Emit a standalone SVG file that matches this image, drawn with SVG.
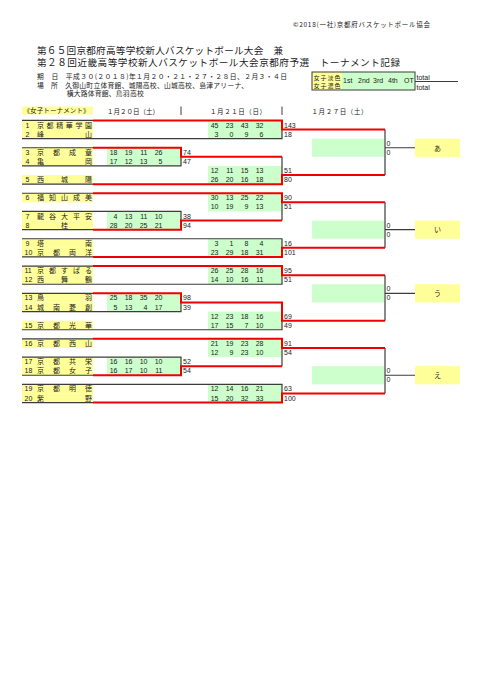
<svg xmlns="http://www.w3.org/2000/svg" width="481" height="680" viewBox="0 0 481 680">
<style>
.t{font-family:"Liberation Sans","Noto Sans CJK JP",sans-serif;font-size:7px;fill:#222}
.j{font-family:"Noto Sans CJK JP",sans-serif;fill:#222}
.e{text-anchor:end}
.y{fill:#ffff99}
.g{fill:#ccffcc}
.d{stroke:#3c3c3c;stroke-width:1.2;fill:none}
.r{stroke:#f00000;stroke-width:2;fill:none}
</style>
<rect width="481" height="680" fill="#fff"/>
<g id="header">
<text class="j" x="293" y="27" font-size="6.5" textLength="137">©2018(一社)京都府バスケットボール協会</text>
<text class="j" x="37" y="54" font-size="9.6" textLength="246">第６５回京都府高等学校新人バスケットボール大会　兼</text>
<text class="j" x="37" y="66.3" font-size="9.6" textLength="363">第２８回近畿高等学校新人バスケットボール大会京都府予選　トーナメント記録</text>
<text class="j" x="37" y="79.3" font-size="6.8" textLength="250">期　日　平成３０(２０１８)年１月２０・２１・２７・２８日、２月３・４日</text>
<text class="j" x="37" y="87.6" font-size="6.8" textLength="211">場　所　久御山町立体育館、城陽高校、山城高校、島津アリーナ、</text>
<text class="j" x="66.7" y="95.6" font-size="6.8" textLength="77">横大路体育館、鳥羽高校</text>
</g>
<g id="legend">
<rect x="312" y="72" width="30" height="18" class="y"/>
<rect x="342" y="72" width="73" height="18" class="g"/>
<rect x="312" y="72" width="103" height="18" fill="none" stroke="#3c3c3c" stroke-width="1"/>
<text class="j" x="313.5" y="79.5" font-size="6" textLength="27">女子淡色</text>
<text class="j" x="313.5" y="88" font-size="6" textLength="27">女子濃色</text>
<text class="t" y="83" font-size="6" x="343">1st</text>
<text class="t" y="83" font-size="6" x="358">2nd</text>
<text class="t" y="83" font-size="6" x="373">3rd</text>
<text class="t" y="83" font-size="6" x="388">4th</text>
<text class="t" y="83" font-size="6" x="404">OT</text>
<text class="t" x="416.5" y="79.5" font-size="6">total</text>
<text class="t" x="416.5" y="89.5" font-size="6">total</text>
<line x1="415" y1="81.5" x2="458" y2="81.5" stroke="#3c3c3c" stroke-width="1"/>
</g>
<g id="colheads">
<rect x="22" y="106.5" width="71" height="8" class="y"/>
<text class="j" x="23.5" y="113" font-size="6.5" textLength="66">《女子トーナメント》</text>
<text class="j" x="107" y="113.5" font-size="6.5" textLength="52">１月２０日（土）</text>
<text class="j" x="210" y="113.5" font-size="6.5" textLength="56">１月２１日（日）</text>
<text class="j" x="311.5" y="113.5" font-size="6.5" textLength="56">１月２７日（土）</text>
<line x1="181" y1="106.5" x2="181" y2="115" stroke="#3c3c3c" stroke-width="1"/>
<line x1="282" y1="106.5" x2="282" y2="115" stroke="#3c3c3c" stroke-width="1"/>
</g>
<g id="scoreboxes">
<rect class="g" x="208" y="120.45" width="74" height="18.2"/>
<rect class="g" x="107" y="147.75" width="74" height="18.2"/>
<rect class="g" x="208" y="165.95" width="74" height="18.2"/>
<rect class="g" x="208" y="193.25" width="74" height="18.2"/>
<rect class="g" x="107" y="211.45" width="74" height="18.2"/>
<rect class="g" x="208" y="238.75" width="74" height="18.2"/>
<rect class="g" x="208" y="266.05" width="74" height="18.2"/>
<rect class="g" x="107" y="293.35" width="74" height="18.2"/>
<rect class="g" x="208" y="311.55" width="74" height="18.2"/>
<rect class="g" x="208" y="338.85" width="74" height="18.2"/>
<rect class="g" x="107" y="357.05" width="74" height="18.2"/>
<rect class="g" x="208" y="384.35" width="74" height="18.2"/>
<rect class="g" x="312" y="138.65" width="72" height="18.2"/>
<rect class="g" x="312" y="220.55" width="72" height="18.2"/>
<rect class="g" x="312" y="284.25" width="72" height="18.2"/>
<rect class="g" x="312" y="366.15" width="72" height="18.2"/>
</g>
<g id="team1"><rect class="y" x="22" y="120.45" width="71" height="9.1"/><text class="t" x="25.5" y="127.5">1</text><text class="j" font-size="7" y="127.5" x="37 46.6 56.2 65.8 75.4 85">京都精華学園</text></g>
<g id="team2"><rect class="y" x="22" y="129.55" width="71" height="9.1"/><text class="t" x="25.5" y="136.6">2</text><text class="j" font-size="7" y="136.6" x="37 85">峰山</text></g>
<g id="team3"><rect class="y" x="22" y="147.75" width="71" height="9.1"/><text class="t" x="25.5" y="154.8">3</text><text class="j" font-size="7" y="154.8" x="37 53 69 85">京都成章</text></g>
<g id="team4"><rect class="y" x="22" y="156.85" width="71" height="9.1"/><text class="t" x="25.5" y="163.9">4</text><text class="j" font-size="7" y="163.9" x="37 85">亀岡</text></g>
<g id="team5"><rect class="y" x="22" y="175.05" width="71" height="9.1"/><text class="t" x="25.5" y="182.1">5</text><text class="j" font-size="7" y="182.1" x="37 61 85">西城陽</text></g>
<g id="team6"><rect class="y" x="22" y="193.25" width="71" height="9.1"/><text class="t" x="25.5" y="200.3">6</text><text class="j" font-size="7" y="200.3" x="37 49 61 73 85">福知山成美</text></g>
<g id="team7"><rect class="y" x="22" y="211.45" width="71" height="9.1"/><text class="t" x="25.5" y="218.5">7</text><text class="j" font-size="7" y="218.5" x="37 49 61 73 85">龍谷大平安</text></g>
<g id="team8"><rect class="y" x="22" y="220.55" width="71" height="9.1"/><text class="t" x="25.5" y="227.6">8</text><text class="j" font-size="7" y="227.6" x="61">桂</text></g>
<g id="team9"><rect class="y" x="22" y="238.75" width="71" height="9.1"/><text class="t" x="25.5" y="245.8">9</text><text class="j" font-size="7" y="245.8" x="37 85">塔南</text></g>
<g id="team10"><rect class="y" x="22" y="247.85" width="71" height="9.1"/><text class="t" x="24.5" y="254.9">10</text><text class="j" font-size="7" y="254.9" x="37 53 69 85">京都両洋</text></g>
<g id="team11"><rect class="y" x="22" y="266.05" width="71" height="9.1"/><text class="t" x="24.5" y="273.1">11</text><text class="j" font-size="7" y="273.1" x="37 49 61 73 85">京都すばる</text></g>
<g id="team12"><rect class="y" x="22" y="275.15" width="71" height="9.1"/><text class="t" x="24.5" y="282.2">12</text><text class="j" font-size="7" y="282.2" x="37 61 85">西舞鶴</text></g>
<g id="team13"><rect class="y" x="22" y="293.35" width="71" height="9.1"/><text class="t" x="24.5" y="300.4">13</text><text class="j" font-size="7" y="300.4" x="37 85">鳥羽</text></g>
<g id="team14"><rect class="y" x="22" y="302.45" width="71" height="9.1"/><text class="t" x="24.5" y="309.5">14</text><text class="j" font-size="7" y="309.5" x="37 53 69 85">城南菱創</text></g>
<g id="team15"><rect class="y" x="22" y="320.65" width="71" height="9.1"/><text class="t" x="24.5" y="327.7">15</text><text class="j" font-size="7" y="327.7" x="37 53 69 85">京都光華</text></g>
<g id="team16"><rect class="y" x="22" y="338.85" width="71" height="9.1"/><text class="t" x="24.5" y="345.9">16</text><text class="j" font-size="7" y="345.9" x="37 53 69 85">京都西山</text></g>
<g id="team17"><rect class="y" x="22" y="357.05" width="71" height="9.1"/><text class="t" x="24.5" y="364.1">17</text><text class="j" font-size="7" y="364.1" x="37 53 69 85">京都共栄</text></g>
<g id="team18"><rect class="y" x="22" y="366.15" width="71" height="9.1"/><text class="t" x="24.5" y="373.2">18</text><text class="j" font-size="7" y="373.2" x="37 53 69 85">京都女子</text></g>
<g id="team19"><rect class="y" x="22" y="384.35" width="71" height="9.1"/><text class="t" x="24.5" y="391.4">19</text><text class="j" font-size="7" y="391.4" x="37 53 69 85">京都明徳</text></g>
<g id="team20"><rect class="y" x="22" y="393.45" width="71" height="9.1"/><text class="t" x="24.5" y="400.5">20</text><text class="j" font-size="7" y="400.5" x="37 85">紫野</text></g>
<g id="connectors">
<path class="d" d="M22 120.45H93 M22 138.65H282V129.55 M22 147.75H93 M22 165.95H181V156.85 M22 184.15H93 M282 156.85V175.05 M385 129.55V175.05 M385 147.75H415"/>
<path class="d" d="M22 193.25H93 M22 211.45H181V220.55 M22 229.65H93 M282 202.35V220.55 M22 238.75H282V247.85 M22 256.95H93 M385 202.35V247.85 M385 229.65H415"/>
<path class="d" d="M22 266.05H93 M22 284.25H282V275.15 M22 293.35H93 M22 311.55H181V302.45 M22 329.75H282V320.65 M385 275.15V320.65 M385 293.35H415"/>
<path class="d" d="M22 338.85H93 M22 357.05H181V366.15 M22 375.25H93 M282 347.95V366.15 M22 384.35H282V393.45 M22 402.55H93 M385 347.95V393.45 M385 375.25H415"/>
<path class="r" d="M93 120.45H282V129.55H385 M93 147.75H181V156.85H282 M93 184.15H282V175.05H385"/>
<path class="r" d="M93 193.25H282V202.35H385 M93 229.65H181V220.55H282 M93 256.95H282V247.85H385"/>
<path class="r" d="M93 266.05H282V275.15H385 M93 293.35H181V302.45H282V320.65H385"/>
<path class="r" d="M93 338.85H282V347.95H385 M93 375.25H181V366.15H282 M93 402.55H282V393.45H385"/>
</g>
<g id="matchA" class="t">
<text class="t e" y="127.5"><tspan x="218.5">45</tspan><tspan x="233.5">23</tspan><tspan x="248.5">43</tspan><tspan x="263.5">32</tspan></text>
<text class="t e" y="136.6"><tspan x="218.5">3</tspan><tspan x="233.5">0</tspan><tspan x="248.5">9</tspan><tspan x="263.5">6</tspan></text>
<text class="t" x="284" y="127.5">143</text><text class="t" x="284" y="136.6">18</text>
</g>
<g id="matchB">
<text class="t e" y="154.8"><tspan x="117.5">18</tspan><tspan x="132.5">19</tspan><tspan x="147.5">11</tspan><tspan x="162.5">26</tspan></text>
<text class="t e" y="163.9"><tspan x="117.5">17</tspan><tspan x="132.5">12</tspan><tspan x="147.5">13</tspan><tspan x="162.5">5</tspan></text>
<text class="t" x="183" y="154.8">74</text><text class="t" x="183" y="163.9">47</text>
</g>
<g id="matchC">
<text class="t e" y="173"><tspan x="218.5">12</tspan><tspan x="233.5">11</tspan><tspan x="248.5">15</tspan><tspan x="263.5">13</tspan></text>
<text class="t e" y="182.1"><tspan x="218.5">26</tspan><tspan x="233.5">20</tspan><tspan x="248.5">16</tspan><tspan x="263.5">18</tspan></text>
<text class="t" x="284" y="173">51</text><text class="t" x="284" y="182.1">80</text>
</g>
<g id="finalA">
<text class="t" x="386.5" y="145.7">0</text><text class="t" x="386.5" y="154.8">0</text>
<rect class="y" x="415" y="138.65" width="45" height="18.2"/>
<text class="j" x="437.5" y="150.5" font-size="7" text-anchor="middle">あ</text>
</g>
<g id="matchE">
<text class="t e" y="200.3"><tspan x="218.5">30</tspan><tspan x="233.5">13</tspan><tspan x="248.5">25</tspan><tspan x="263.5">22</tspan></text>
<text class="t e" y="209.4"><tspan x="218.5">10</tspan><tspan x="233.5">19</tspan><tspan x="248.5">9</tspan><tspan x="263.5">13</tspan></text>
<text class="t" x="284" y="200.3">90</text><text class="t" x="284" y="209.4">51</text>
</g>
<g id="matchD">
<text class="t e" y="218.5"><tspan x="117.5">4</tspan><tspan x="132.5">13</tspan><tspan x="147.5">11</tspan><tspan x="162.5">10</tspan></text>
<text class="t e" y="227.6"><tspan x="117.5">28</tspan><tspan x="132.5">20</tspan><tspan x="147.5">25</tspan><tspan x="162.5">21</tspan></text>
<text class="t" x="183" y="218.5">38</text><text class="t" x="183" y="227.6">94</text>
</g>
<g id="matchF">
<text class="t e" y="245.8"><tspan x="218.5">3</tspan><tspan x="233.5">1</tspan><tspan x="248.5">8</tspan><tspan x="263.5">4</tspan></text>
<text class="t e" y="254.9"><tspan x="218.5">23</tspan><tspan x="233.5">29</tspan><tspan x="248.5">18</tspan><tspan x="263.5">31</tspan></text>
<text class="t" x="284" y="245.8">16</text><text class="t" x="284" y="254.9">101</text>
</g>
<g id="finalI">
<text class="t" x="386.5" y="227.6">0</text><text class="t" x="386.5" y="236.7">0</text>
<rect class="y" x="415" y="220.55" width="45" height="18.2"/>
<text class="j" x="437.5" y="232.4" font-size="7" text-anchor="middle">い</text>
</g>
<g id="matchG">
<text class="t e" y="273.1"><tspan x="218.5">26</tspan><tspan x="233.5">25</tspan><tspan x="248.5">28</tspan><tspan x="263.5">16</tspan></text>
<text class="t e" y="282.2"><tspan x="218.5">14</tspan><tspan x="233.5">10</tspan><tspan x="248.5">16</tspan><tspan x="263.5">11</tspan></text>
<text class="t" x="284" y="273.1">95</text><text class="t" x="284" y="282.2">51</text>
</g>
<g id="matchH">
<text class="t e" y="300.4"><tspan x="117.5">25</tspan><tspan x="132.5">18</tspan><tspan x="147.5">35</tspan><tspan x="162.5">20</tspan></text>
<text class="t e" y="309.5"><tspan x="117.5">5</tspan><tspan x="132.5">13</tspan><tspan x="147.5">4</tspan><tspan x="162.5">17</tspan></text>
<text class="t" x="183" y="300.4">98</text><text class="t" x="183" y="309.5">39</text>
</g>
<g id="matchJ">
<text class="t e" y="318.6"><tspan x="218.5">12</tspan><tspan x="233.5">23</tspan><tspan x="248.5">18</tspan><tspan x="263.5">16</tspan></text>
<text class="t e" y="327.7"><tspan x="218.5">17</tspan><tspan x="233.5">15</tspan><tspan x="248.5">7</tspan><tspan x="263.5">10</tspan></text>
<text class="t" x="284" y="318.6">69</text><text class="t" x="284" y="327.7">49</text>
</g>
<g id="finalU">
<text class="t" x="386.5" y="291.3">0</text><text class="t" x="386.5" y="300.4">0</text>
<rect class="y" x="415" y="284.25" width="45" height="18.2"/>
<text class="j" x="437.5" y="296.1" font-size="7" text-anchor="middle">う</text>
</g>
<g id="matchK">
<text class="t e" y="345.9"><tspan x="218.5">21</tspan><tspan x="233.5">19</tspan><tspan x="248.5">23</tspan><tspan x="263.5">28</tspan></text>
<text class="t e" y="355"><tspan x="218.5">12</tspan><tspan x="233.5">9</tspan><tspan x="248.5">23</tspan><tspan x="263.5">10</tspan></text>
<text class="t" x="284" y="345.9">91</text><text class="t" x="284" y="355">54</text>
</g>
<g id="matchL">
<text class="t e" y="364.1"><tspan x="117.5">16</tspan><tspan x="132.5">16</tspan><tspan x="147.5">10</tspan><tspan x="162.5">10</tspan></text>
<text class="t e" y="373.2"><tspan x="117.5">16</tspan><tspan x="132.5">17</tspan><tspan x="147.5">10</tspan><tspan x="162.5">11</tspan></text>
<text class="t" x="183" y="364.1">52</text><text class="t" x="183" y="373.2">54</text>
</g>
<g id="matchM">
<text class="t e" y="391.4"><tspan x="218.5">12</tspan><tspan x="233.5">14</tspan><tspan x="248.5">16</tspan><tspan x="263.5">21</tspan></text>
<text class="t e" y="400.5"><tspan x="218.5">15</tspan><tspan x="233.5">20</tspan><tspan x="248.5">32</tspan><tspan x="263.5">33</tspan></text>
<text class="t" x="284" y="391.4">63</text><text class="t" x="284" y="400.5">100</text>
</g>
<g id="finalE">
<text class="t" x="386.5" y="373.2">0</text><text class="t" x="386.5" y="382.3">0</text>
<rect class="y" x="415" y="366.15" width="45" height="18.2"/>
<text class="j" x="437.5" y="378" font-size="7" text-anchor="middle">え</text>
</g>
</svg>
